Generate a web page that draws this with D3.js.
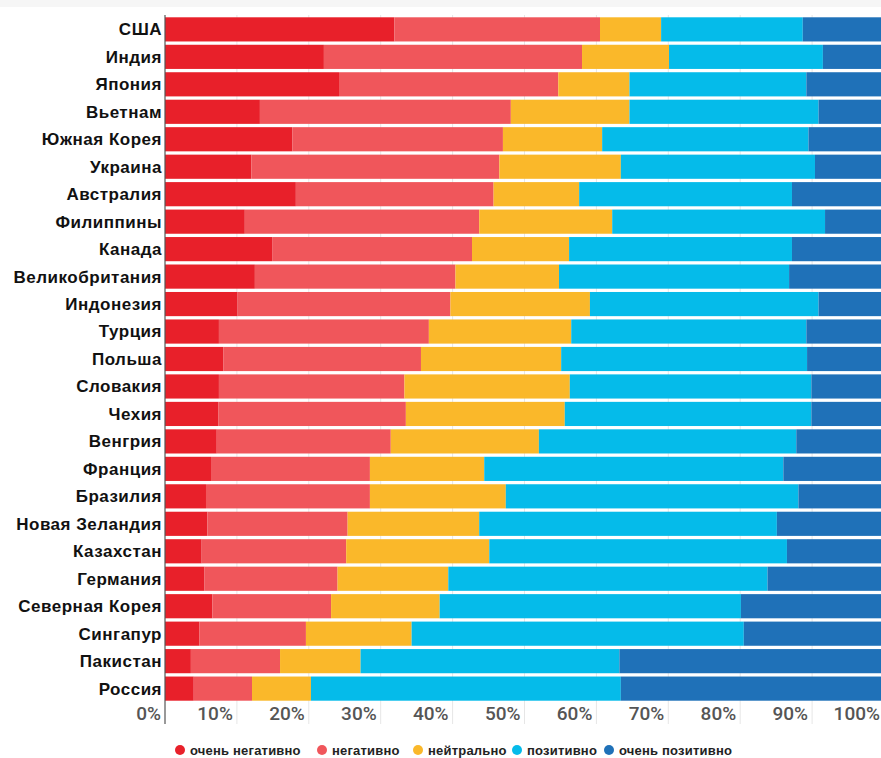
<!DOCTYPE html>
<html>
<head>
<meta charset="utf-8">
<script src="https://cdn.jsdelivr.net/npm/d3@7"></script>
<style>
  html, body { margin: 0; padding: 0; background: #fff; }
  svg { display: block; }
</style>
</head>
<body>
<svg id="chart" width="881" height="758"></svg>
<script>
// Categories (top to bottom)
const countries = ["США","Индия","Япония","Вьетнам","Южная Корея","Украина","Австралия","Филиппины","Канада","Великобритания","Индонезия","Турция","Польша","Словакия","Чехия","Венгрия","Франция","Бразилия","Новая Зеландия","Казахстан","Германия","Северная Корея","Сингапур","Пакистан","Россия"];

// Series values (percent)
const veryNegative = [31.9, 22.1, 24.2, 13.2, 17.7, 12.0, 18.2, 11.1, 14.9, 12.5, 10.1, 7.5, 8.1, 7.5, 7.4, 7.2, 6.4, 5.7, 5.9, 5.1, 5.5, 6.6, 4.8, 3.6, 4.0];
const negative     = [28.6, 35.9, 30.5, 34.9, 29.3, 34.5, 27.5, 32.6, 27.8, 27.9, 29.6, 29.2, 27.5, 25.8, 26.1, 24.2, 22.1, 22.8, 19.5, 20.1, 18.5, 16.5, 14.8, 12.4, 8.1];
const neutral      = [8.5, 12.1, 9.9, 16.5, 13.8, 16.9, 11.9, 18.5, 13.5, 14.4, 19.4, 19.8, 19.5, 23.0, 22.1, 20.6, 15.9, 18.9, 18.3, 19.9, 15.4, 15.1, 14.7, 11.2, 8.2];
const positive     = [19.7, 21.4, 24.6, 26.3, 28.7, 27.0, 29.6, 29.6, 31.0, 32.0, 31.8, 32.7, 34.2, 33.6, 34.3, 35.8, 41.6, 40.7, 41.4, 41.4, 44.4, 41.9, 46.2, 36.0, 43.1];
const veryPositive = [11.3, 8.5, 10.8, 9.1, 10.5, 9.6, 12.8, 8.2, 12.8, 13.2, 9.1, 10.8, 10.7, 10.1, 10.1, 12.2, 14.0, 11.9, 14.9, 13.5, 16.2, 19.9, 19.5, 36.8, 36.6];

const seriesNames = ["очень негативно","негативно","нейтрально","позитивно","очень позитивно"];
const seriesColors = ["#E8202A","#F0565B","#FAB82A","#05BBEA","#1F71B8"];
const tickValues = [0,10,20,30,40,50,60,70,80,90,100];

const svg = d3.select("#chart");

// faint top shade
svg.append("rect").attr("x",0).attr("y",0).attr("width",881).attr("height",7).attr("fill","#f6f6f6");

const x = d3.scaleLinear().domain([0,100]).range([165, 884]);
const y = d3.scaleBand().domain(countries).range([14, 704]).padding(0.12);

const rows = countries.map((c,i) => ({
  country: c,
  "очень негативно": veryNegative[i],
  "негативно": negative[i],
  "нейтрально": neutral[i],
  "позитивно": positive[i],
  "очень позитивно": veryPositive[i]
}));

const stack = d3.stack().keys(seriesNames);
const stacked = stack(rows);
const color = d3.scaleOrdinal().domain(seriesNames).range(seriesColors);

// gridlines
svg.append("g").selectAll("line").data(tickValues.slice(1)).join("line")
  .attr("x1", d => x(d)).attr("x2", d => x(d))
  .attr("y1", 15).attr("y2", 724)
  .attr("stroke", "#e6e6e6").attr("stroke-width", 1);

// bars
svg.append("g").selectAll("g").data(stacked).join("g")
  .attr("fill", d => color(d.key))
  .selectAll("rect").data(d => d).join("rect")
  .attr("x", d => x(d[0]))
  .attr("width", d => x(d[1]) - x(d[0]))
  .attr("y", d => y(d.data.country))
  .attr("height", y.bandwidth());

// y axis line
svg.append("line").attr("x1", 165).attr("x2", 165).attr("y1", 15).attr("y2", 724)
  .attr("stroke", "#555").attr("stroke-width", 1.2);

// category labels
svg.append("g").selectAll("text").data(countries).join("text")
  .attr("x", 162)
  .attr("y", d => y(d) + y.bandwidth()/2)
  .attr("dy", "0.35em")
  .attr("text-anchor", "end")
  .attr("font-family", "Liberation Sans, Arial, sans-serif")
  .attr("font-weight", "bold")
  .attr("font-size", "17px")
  .attr("letter-spacing", "0.5px")
  .attr("fill", "#111")
  .text(d => d);

// x tick labels
svg.append("g").selectAll("text").data(tickValues).join("text")
  .attr("x", d => x(d) - 4)
  .attr("y", 720)
  .attr("text-anchor", "end")
  .attr("font-family", "Roboto, sans-serif")
  .attr("font-weight", "500")
  .attr("font-size", "19px")
  .attr("fill", "#555")
  .text(d => d + "%");

// legend
const legendX = [180, 322, 418, 517, 609];
const lg = svg.append("g").selectAll("g").data(seriesNames).join("g")
  .attr("transform", (d,i) => `translate(${legendX[i]},750)`);
lg.append("circle").attr("r", 5).attr("fill", d => color(d));
lg.append("text").attr("x", 10).attr("dy", "0.35em")
  .attr("font-family", "Liberation Sans, Arial, sans-serif")
  .attr("font-weight", "bold")
  .attr("font-size", "13px")
  .attr("letter-spacing", "0.2px")
  .attr("fill", "#222")
  .text(d => d);
</script>
</body>
</html>
